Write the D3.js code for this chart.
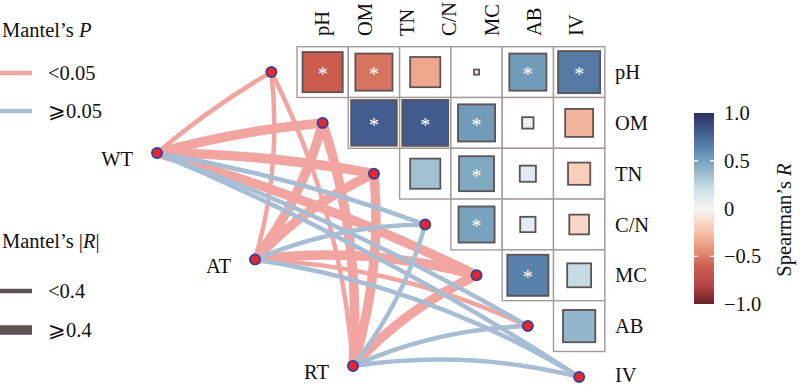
<!DOCTYPE html>
<html>
<head>
<meta charset="utf-8">
<script src="https://cdn.jsdelivr.net/npm/d3@7"></script>
<style>
  body { margin: 0; background: #fff; }
  text { font-family: "Liberation Serif", "Times New Roman", serif; font-size: 20.5px; fill: #111; }
</style>
</head>
<body>
<script>
var envVars = ['pH', 'OM', 'TN', 'C/N', 'MC', 'AB', 'IV'];
var specVars = ['WT', 'AT', 'RT'];

// Spearman's R, upper triangle: row i against columns i+1 .. end
var corrPH = [-0.62, -0.53, -0.35, 0.01, 0.53, 0.68];
var corrOM = [0.80, 0.81, 0.53, 0.05, -0.30];
var corrTN = [0.35, 0.47, 0.10, -0.19];
var corrCN = [0.50, 0.09, -0.15];
var corrMC = [0.65, 0.22];
var corrAB = [0.40];
// p values of the same cells
var pPH = [0.001, 0.01, 0.08, 0.95, 0.01, 0.001];
var pOM = [0.001, 0.001, 0.01, 0.80, 0.12];
var pTN = [0.06, 0.02, 0.60, 0.30];
var pCN = [0.01, 0.65, 0.42];
var pMC = [0.001, 0.25];
var pAB = [0.06];
var corrRows = [corrPH, corrOM, corrTN, corrCN, corrMC, corrAB];
var pRows = [pPH, pOM, pTN, pCN, pMC, pAB];

// Mantel test of each group against pH, OM, TN, C/N, MC, AB, IV
var mantelR_WT = [0.32, 0.58, 0.55, 0.22, 0.52, 0.18, 0.15];
var mantelP_WT = [0.01, 0.001, 0.001, 0.21, 0.002, 0.32, 0.45];
var mantelR_AT = [0.30, 0.61, 0.57, 0.20, 0.55, 0.28, 0.12];
var mantelP_AT = [0.02, 0.001, 0.001, 0.18, 0.001, 0.03, 0.52];
var mantelR_RT = [0.33, 0.56, 0.53, 0.19, 0.50, 0.16, 0.10];
var mantelP_RT = [0.01, 0.001, 0.001, 0.24, 0.002, 0.29, 0.61];
var mantelR = [mantelR_WT, mantelR_AT, mantelR_RT];
var mantelP = [mantelP_WT, mantelP_AT, mantelP_RT];

var barTicks = [1, 0.5, 0, -0.5, -1];
var barTickLabels = ['1.0', '0.5', '0', '\u22120.5', '\u22121.0'];
var pLegend = ['<0.05', '\u2a7e0.05'];
var rLegend = ['<0.4', '\u2a7e0.4'];

var width = 800, height = 385;

var svg = d3.select('body').append('svg')
    .attr('width', width)
    .attr('height', height);

var x = d3.scaleBand().domain(envVars).range([245.7, 604.8]);
var y = d3.scaleBand().domain(envVars).range([46.7, 402.3]);
var side = d3.scaleSqrt().domain([0, 1]).range([0, 51]);
var color = d3.scaleLinear()
    .domain([-1, -0.8, -0.6, -0.4, -0.2, 0, 0.2, 0.4, 0.6, 0.8, 1])
    .range(['#6b1f2b', '#b54448', '#cd5f4f', '#ea9a80', '#f9cdb9', '#f7f5f4',
            '#cddfe8', '#92b6ca', '#608db1', '#435d91', '#2c3060']);
var colLab = d3.scalePoint().domain(envVars).range([322, 576]);
var specX = d3.scalePoint().domain(specVars).range([157, 353]);
var specY = d3.scalePoint().domain(specVars).range([153, 366]);
var lineCol = function(p) { return p < 0.05 ? '#f2a4a0' : '#a7bdd4'; };
var lineW = function(r) { return r < 0.4 ? 4.5 : 9.5; };

// ---- mantel links ----
var links = [];
specVars.forEach(function(s, i) {
  envVars.forEach(function(e, j) {
    links.push({spec: s, env: e, r: mantelR[i][j], p: mantelP[i][j]});
  });
});
links.sort(function(a, b) { return (a.p < 0.05 ? 0 : 1) - (b.p < 0.05 ? 0 : 1); });

function envPos(e) { return [x(e) + x.bandwidth() / 2, y(e) + y.bandwidth() / 2]; }
var midY = envPos(envVars[3])[1];

function curve(d) {
  var x0 = specX(d.spec), y0 = specY(d.spec);
  var p = envPos(d.env);
  var dx = p[0] - x0, dy = p[1] - y0;
  var L = Math.sqrt(dx * dx + dy * dy);
  // left-hand normal (screen coords)
  var nx = dy / L, ny = -dx / L;
  // bend to the side facing the matrix (up-right), less for the top node
  var toward = (nx - ny) > 0 ? 1 : -1;
  var k = (y0 > midY ? 0.1 : 0.045) * L * toward;
  var cx = x0 + dx / 2 + nx * k, cy = y0 + dy / 2 + ny * k;
  var path = d3.path();
  path.moveTo(x0, y0);
  path.quadraticCurveTo(cx, cy, p[0], p[1]);
  return path.toString();
}

svg.append('g').selectAll('path')
  .data(links)
  .enter().append('path')
    .attr('d', curve)
    .attr('fill', 'none')
    .attr('stroke', function(d) { return lineCol(d.p); })
    .attr('stroke-width', function(d) { return lineW(d.r); });

// ---- correlation matrix ----
var cells = [];
corrRows.forEach(function(row, i) {
  row.forEach(function(v, k) {
    cells.push({row: envVars[i], col: envVars[i + 1 + k], r: v, p: pRows[i][k]});
  });
});

var gc = svg.append('g').selectAll('g')
  .data(cells)
  .enter().append('g')
    .attr('transform', function(d) { return 'translate(' + x(d.col) + ',' + y(d.row) + ')'; });

gc.append('rect')
    .attr('width', x.bandwidth())
    .attr('height', y.bandwidth())
    .attr('fill', '#fff')
    .attr('stroke', '#a39b9a')
    .attr('stroke-width', 1.4);

gc.append('rect')
    .attr('x', function(d) { return (x.bandwidth() - side(Math.abs(d.r))) / 2; })
    .attr('y', function(d) { return (y.bandwidth() - side(Math.abs(d.r))) / 2; })
    .attr('width', function(d) { return side(Math.abs(d.r)); })
    .attr('height', function(d) { return side(Math.abs(d.r)); })
    .attr('fill', function(d) { return color(d.r); })
    .attr('stroke', '#5c5353')
    .attr('stroke-width', 1.8);

gc.filter(function(d) { return d.p < 0.05; }).append('text')
    .attr('x', x.bandwidth() / 2)
    .attr('y', y.bandwidth() / 2 + 9)
    .attr('text-anchor', 'middle')
    .style('fill', '#fff')
    .style('font-size', '20px')
    .text('*');

// column labels
svg.append('g').selectAll('text')
  .data(envVars)
  .enter().append('text')
    .attr('transform', function(d) { return 'translate(' + colLab(d) + ',36) rotate(-90)'; })
    .attr('dy', '0.35em')
    .text(function(d) { return d; });

// row labels
svg.append('g').selectAll('text')
  .data(envVars)
  .enter().append('text')
    .attr('x', 615)
    .attr('y', function(d) { return Math.min(y(d) + y.bandwidth() / 2, 375); })
    .attr('dy', '0.35em')
    .text(function(d) { return d; });

// ---- nodes ----
svg.append('g').selectAll('circle')
  .data(envVars)
  .enter().append('circle')
    .attr('cx', function(d) { return envPos(d)[0]; })
    .attr('cy', function(d) { return envPos(d)[1]; })
    .attr('r', 5)
    .attr('fill', '#e8262b')
    .attr('stroke', '#3a419a')
    .attr('stroke-width', 2);

var gs = svg.append('g').selectAll('g')
  .data(specVars)
  .enter().append('g')
    .attr('transform', function(d) { return 'translate(' + specX(d) + ',' + specY(d) + ')'; });
gs.append('circle')
    .attr('r', 5)
    .attr('fill', '#e8262b')
    .attr('stroke', '#3a419a')
    .attr('stroke-width', 2);
gs.append('text')
    .attr('x', -24)
    .attr('y', 6)
    .attr('dy', '0.35em')
    .attr('text-anchor', 'end')
    .text(function(d) { return d; });

// ---- legends ----
var t1 = svg.append('text').attr('x', 2).attr('y', 37);
t1.append('tspan').text('Mantel\u2019s ');
t1.append('tspan').style('font-style', 'italic').text('P');

var lp = svg.append('g').selectAll('g')
  .data(pLegend)
  .enter().append('g')
    .attr('transform', function(d, i) { return 'translate(0,' + (73 + i * 38) + ')'; });
lp.append('line')
    .attr('x1', 0).attr('x2', 32)
    .attr('stroke', function(d, i) { return lineCol(i === 0 ? 0.01 : 0.5); })
    .attr('stroke-width', 4.5);
lp.append('text')
    .attr('x', 48)
    .attr('dy', '0.35em')
    .text(function(d) { return d; });

var t2 = svg.append('text').attr('x', 2).attr('y', 248);
t2.append('tspan').text('Mantel\u2019s |');
t2.append('tspan').style('font-style', 'italic').text('R');
t2.append('tspan').text('|');

var lr = svg.append('g').selectAll('g')
  .data(rLegend)
  .enter().append('g')
    .attr('transform', function(d, i) { return 'translate(0,' + (291 + i * 39) + ')'; });
lr.append('line')
    .attr('x1', 0).attr('x2', 32)
    .attr('stroke', '#5a5352')
    .attr('stroke-width', function(d, i) { return lineW(i === 0 ? 0.2 : 0.6); });
lr.append('text')
    .attr('x', 48)
    .attr('dy', '0.35em')
    .text(function(d) { return d; });

// ---- colour bar ----
var cbY = d3.scaleLinear().domain([-1, 1]).range([304, 113]);
var grad = svg.append('defs').append('linearGradient')
    .attr('id', 'cbar')
    .attr('x1', 0).attr('y1', 1).attr('x2', 0).attr('y2', 0);
d3.range(0, 1.0001, 0.05).forEach(function(t) {
  grad.append('stop')
    .attr('offset', t)
    .attr('stop-color', color(-1 + 2 * t));
});
svg.append('rect')
    .attr('x', 694).attr('y', cbY(1))
    .attr('width', 20).attr('height', cbY(-1) - cbY(1))
    .attr('fill', 'url(#cbar)');

svg.append('g').selectAll('g')
  .data(barTicks.filter(function(v) { return Math.abs(v) < 1; }))
  .enter().append('g')
    .each(function(v) {
      var g = d3.select(this);
      g.append('line').attr('x1', 694).attr('x2', 698).attr('y1', cbY(v)).attr('y2', cbY(v));
      g.append('line').attr('x1', 710).attr('x2', 714).attr('y1', cbY(v)).attr('y2', cbY(v));
    })
    .selectAll('line')
    .attr('stroke', '#fff')
    .attr('stroke-width', 1.3);

var axis = svg.append('g')
    .attr('transform', 'translate(714,0)')
    .call(d3.axisRight(cbY)
      .tickValues(barTicks)
      .tickSize(0)
      .tickPadding(10)
      .tickFormat(function(d, i) { return barTickLabels[i]; }));
axis.select('.domain').remove();
axis.attr('font-size', null).attr('font-family', null);
axis.selectAll('text').style('fill', '#111');

var t3 = svg.append('text')
    .attr('transform', 'translate(791,220) rotate(-90)')
    .attr('text-anchor', 'middle');
t3.append('tspan').text('Spearman\u2019s ');
t3.append('tspan').style('font-style', 'italic').text('R');
</script>
</body>
</html>
